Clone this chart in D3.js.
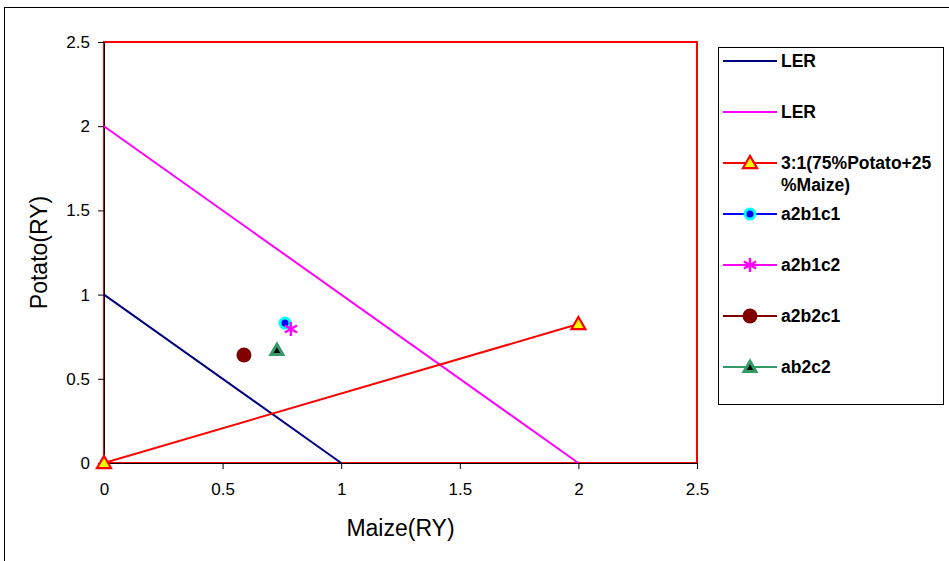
<!DOCTYPE html>
<html><head><meta charset="utf-8">
<script src="https://cdn.jsdelivr.net/npm/d3@7"></script>
<style>body{margin:0;background:#fff}svg{display:block}</style>
</head><body><svg id="c" width="949" height="561"></svg>
<script>
const xTicks = [0, 0.5, 1, 1.5, 2, 2.5];
const yTicks = [0, 0.5, 1, 1.5, 2, 2.5];
const ler1 = [[0, 1], [1, 0]];
const ler2 = [[0, 2], [2, 0]];
const ratio31 = [[0, 0], [2, 0.825]];
const a2b1c1 = [[0.763, 0.831]];
const a2b1c2 = [[0.788, 0.796]];
const a2b2c1 = [[0.59, 0.641]];
const ab2c2 = [[0.729, 0.671]];
const legendLabels = ["LER", "LER", "3:1(75%Potato+25\n%Maize)", "a2b1c1", "a2b1c2", "a2b2c1", "ab2c2"];

const svg = d3.select("#c");
svg.append("rect").attr("x", 4.5).attr("y", 7.5).attr("width", 1000).attr("height", 700)
  .attr("fill", "none").attr("stroke", "#000").attr("stroke-width", 1);

const x = d3.scaleLinear().domain([0, 2.5]).range([104, 697]);
const y = d3.scaleLinear().domain([0, 2.5]).range([463, 42]);

svg.append("rect").attr("x", x(0)).attr("y", y(2.5)).attr("width", x(2.5) - x(0)).attr("height", y(0) - y(2.5))
  .attr("fill", "none").attr("stroke", "#ff0000").attr("stroke-width", 2);

const font = "Liberation Sans, Arial, sans-serif";
const xa = svg.append("g").attr("transform", `translate(0,${y(0)})`)
  .call(d3.axisBottom(x).tickValues(xTicks).tickFormat(d3.format("")).tickSize(6).tickPadding(14));
const ya = svg.append("g").attr("transform", `translate(${x(0)},0)`)
  .call(d3.axisLeft(y).tickValues(yTicks).tickFormat(d3.format("")).tickSize(6).tickPadding(8));
[xa, ya].forEach(a => {
  a.selectAll("text").attr("font-family", font).attr("font-size", 17).attr("fill", "#000");
  a.selectAll("line").attr("stroke", "#000");
  a.select(".domain").attr("stroke", "#000");
});

svg.append("text").attr("x", x(1.25)).attr("y", 536).attr("text-anchor", "middle")
  .attr("font-family", font).attr("font-size", 23).text("Maize(RY)");
svg.append("text").attr("transform", `translate(47,${y(1.25)}) rotate(-90)`).attr("text-anchor", "middle")
  .attr("font-family", font).attr("font-size", 23).text("Potato(RY)");

const line = d3.line().x(d => x(d[0])).y(d => y(d[1]));
svg.append("path").datum(ler1).attr("d", line).attr("fill", "none").attr("stroke", "#000080").attr("stroke-width", 2);
svg.append("path").datum(ler2).attr("d", line).attr("fill", "none").attr("stroke", "#ff00ff").attr("stroke-width", 2);
svg.append("path").datum(ratio31).attr("d", line).attr("fill", "none").attr("stroke", "#ff0000").attr("stroke-width", 2);

function marker(g, type) {
  if (type === "tri") {
    g.append("path").attr("d", d3.symbol(d3.symbolTriangle, 85)()).attr("transform", "translate(0,1)")
      .attr("fill", "#ffff00").attr("stroke", "#ff0000").attr("stroke-width", 2.2);
  } else if (type === "cyan") {
    g.append("circle").attr("r", 5).attr("fill", "#0000ff").attr("stroke", "#00ffff").attr("stroke-width", 3);
  } else if (type === "star") {
    const s = 7;
    g.append("path").attr("d", `M0,${-s}V${s}M${-s*0.87},${-s*0.5}L${s*0.87},${s*0.5}M${-s*0.87},${s*0.5}L${s*0.87},${-s*0.5}`)
      .attr("stroke", "#ff00ff").attr("stroke-width", 2.4);
  } else if (type === "dred") {
    g.append("circle").attr("r", 7.5).attr("fill", "#800000");
  } else if (type === "gtri") {
    g.append("path").attr("d", d3.symbol(d3.symbolTriangle, 60)()).attr("transform", "translate(0,1)")
      .attr("fill", "#000").attr("stroke", "#339966").attr("stroke-width", 3);
  }
}
function pts(data, type) {
  data.forEach(d => marker(svg.append("g").attr("transform", `translate(${x(d[0])},${y(d[1])})`), type));
}
pts(ratio31, "tri");
pts(a2b1c1, "cyan");
pts(a2b1c2, "star");
pts(a2b2c1, "dred");
pts(ab2c2, "gtri");

const lg = svg.append("g");
lg.append("rect").attr("x", 718.5).attr("y", 47.5).attr("width", 225).attr("height", 357)
  .attr("fill", "#fff").attr("stroke", "#000").attr("stroke-width", 1);
const legColors = ["#000080", "#ff00ff", "#ff0000", "#0000ff", "#ff00ff", "#800000", "#339966"];
const legTypes = [null, null, "tri", "cyan", "star", "dred", "gtri"];
const legY = [61, 112, 163, 214, 265, 316, 367];
legendLabels.forEach((lab, i) => {
  const yy = legY[i];
  lg.append("line").attr("x1", 723).attr("x2", 777).attr("y1", yy).attr("y2", yy)
    .attr("stroke", legColors[i]).attr("stroke-width", 2);
  if (legTypes[i]) marker(lg.append("g").attr("transform", `translate(750,${yy})`), legTypes[i]);
  const t = lg.append("text").attr("x", 781).attr("y", yy + 6).attr("font-family", font)
    .attr("font-size", 17.5).attr("font-weight", "bold");
  lab.split("\n").forEach((s, j) => t.append("tspan").attr("x", 781).attr("dy", j ? 22 : 0).text(s));
});
</script></body></html>
